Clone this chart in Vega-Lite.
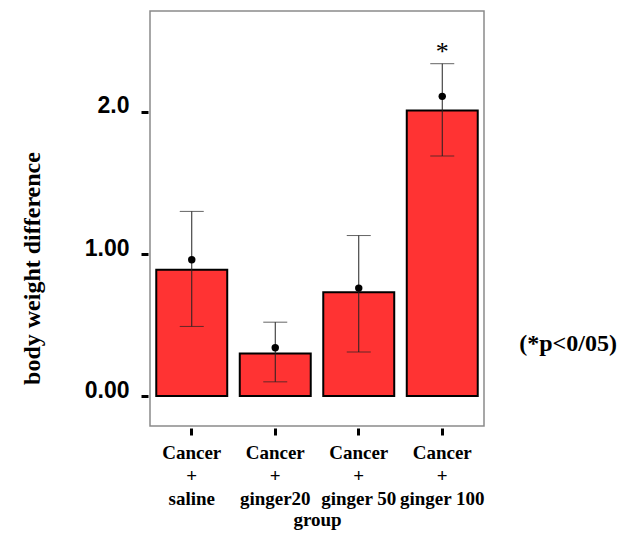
{
  "$schema": "https://vega.github.io/schema/vega-lite/v6.json",
  "width": 334,
  "height": 415,
  "autosize": {"type": "none"},
  "padding": {"left": 150, "top": 11, "right": 136, "bottom": 107},
  "background": "white",
  "config": {"view": {"stroke": "#8a8a8a", "strokeWidth": 1.5}},
  "title": {"text": "(*p<0/05)", "orient": "right", "angle": 0, "anchor": "end", "font": "Liberation Serif", "fontSize": 24, "fontWeight": "bold", "color": "black", "offset": 35, "dy": -197},
  "data": {"values": [
    {"group": "Cancer|+|saline", "bar": 0.89, "mean": 0.96, "lo": 0.49, "hi": 1.30, "sig": ""},
    {"group": "Cancer|+|ginger20", "bar": 0.30, "mean": 0.34, "lo": 0.10, "hi": 0.52, "sig": ""},
    {"group": "Cancer|+|ginger 50", "bar": 0.73, "mean": 0.76, "lo": 0.31, "hi": 1.13, "sig": ""},
    {"group": "Cancer|+|ginger 100", "bar": 2.01, "mean": 2.11, "lo": 1.69, "hi": 2.34, "sig": "*"}
  ]},
  "encoding": {
    "x": {"field": "group", "type": "nominal", "sort": null,
      "scale": {"paddingInner": 0.15, "paddingOuter": 0.075},
      "axis": {"labelAngle": 0, "labelExpr": "split(datum.label, '|')", "labelLineHeight": 23, "labelFont": "Liberation Serif", "labelFontSize": 19, "labelFontWeight": "bold", "labelColor": "black", "labelPadding": 8, "domain": false, "tickColor": "black", "tickWidth": 3, "tickSize": 7, "offset": 2, "title": "group", "titleFont": "Liberation Serif", "titleFontSize": 19, "titleFontWeight": "bold", "titleColor": "black", "titlePadding": 2}}
  },
  "layer": [
    {"mark": {"type": "bar", "fill": "#ff3333", "stroke": "black", "strokeWidth": 2},
     "encoding": {"y": {"field": "bar", "type": "quantitative",
        "scale": {"domain": [-0.211, 2.711], "nice": false, "zero": false},
        "axis": {"values": [0, 1, 2], "labelExpr": "datum.value == 2 ? '2.0' : format(datum.value, '.2f')", "domain": false, "grid": false, "tickColor": "black", "tickWidth": 3, "tickSize": 7, "offset": 2, "labelFont": "Liberation Sans", "labelFontSize": 23, "labelFontWeight": "bold", "labelColor": "black", "labelPadding": 12, "labelBaseline": "alphabetic", "labelOffset": 1, "title": "body weight difference", "titleFont": "Liberation Serif", "titleFontSize": 24, "titleFontWeight": "bold", "titleColor": "black", "titlePadding": 40, "titleY": 257}},
       "y2": {"datum": 0}}},
    {"mark": {"type": "rule", "color": "#222222", "strokeWidth": 1},
     "encoding": {"y": {"field": "lo", "type": "quantitative"}, "y2": {"field": "hi"}}},
    {"mark": {"type": "tick", "color": "#222222", "thickness": 1, "size": 24},
     "encoding": {"y": {"field": "lo", "type": "quantitative"}}},
    {"mark": {"type": "tick", "color": "#222222", "thickness": 1, "size": 24},
     "encoding": {"y": {"field": "hi", "type": "quantitative"}}},
    {"mark": {"type": "point", "filled": true, "color": "black", "size": 55, "opacity": 1},
     "encoding": {"y": {"field": "mean", "type": "quantitative"}}},
    {"mark": {"type": "text", "font": "Liberation Serif", "fontSize": 26, "color": "black", "dy": -12, "baseline": "middle"},
     "encoding": {"y": {"field": "hi", "type": "quantitative"}, "text": {"field": "sig"}}}
  ]
}
